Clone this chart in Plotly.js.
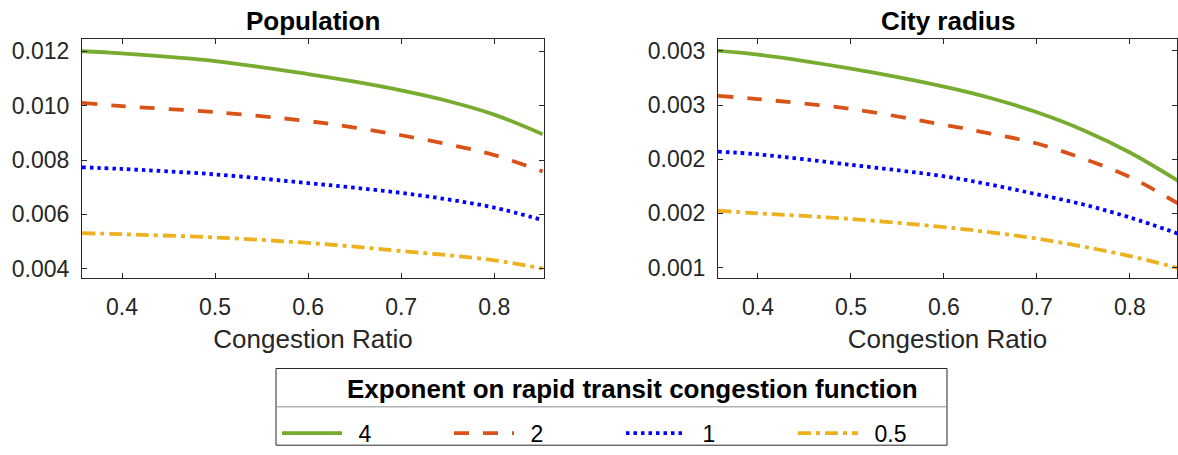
<!DOCTYPE html>
<html>
<head>
<meta charset="utf-8">
<script src="https://cdn.plot.ly/plotly-3.0.1.min.js"></script>
<style>
  html, body { margin: 0; padding: 0; background: #ffffff; }
  #chart { width: 1178px; height: 455px; }
</style>
</head>
<body>
<div id="chart"></div>
<script>
// ---- data ----
const congestionRatio = [0.357, 0.4, 0.5, 0.6, 0.65, 0.7, 0.75, 0.8, 0.852];

const popExp4   = [0.01200, 0.01192, 0.01164, 0.01116, 0.01088, 0.01056, 0.01017, 0.00967, 0.00895];
const popExp2   = [0.01010, 0.00998, 0.00976, 0.00943, 0.00919, 0.00891, 0.00858, 0.00818, 0.00758];
const popExp1   = [0.00773, 0.00767, 0.00747, 0.00715, 0.00698, 0.00679, 0.00655, 0.00625, 0.00579];
const popExp05  = [0.00531, 0.00527, 0.00515, 0.00495, 0.00481, 0.00465, 0.00450, 0.00431, 0.00401];

const radExp4   = [0.003000, 0.002966, 0.002836, 0.002670, 0.002565, 0.002433, 0.002268, 0.002062, 0.001800];
const radExp2   = [0.002585, 0.002555, 0.002464, 0.002318, 0.002237, 0.002145, 0.002005, 0.001835, 0.001590];
const radExp1   = [0.002070, 0.002045, 0.001948, 0.001842, 0.001765, 0.001676, 0.001582, 0.001462, 0.001312];
const radExp05  = [0.001524, 0.001500, 0.001448, 0.001373, 0.001325, 0.001267, 0.001192, 0.001106, 0.000994];

const seriesNames = ['4', '2', '1', '0.5'];
const popTickVals = [0.004, 0.006, 0.008, 0.010, 0.012];
const popTickText = ['0.004', '0.006', '0.008', '0.010', '0.012'];
const radTickVals = [0.001, 0.0015, 0.002, 0.0025, 0.003];
const radTickText = ['0.001', '0.002', '0.002', '0.003', '0.003'];
const xTickVals = [0.4, 0.5, 0.6, 0.7, 0.8];
const xTickText = ['0.4', '0.5', '0.6', '0.7', '0.8'];

const panelTitles = ['Population', 'City radius'];
const xAxisTitle = 'Congestion Ratio';
const legendTitle = 'Exponent on rapid transit congestion function';

// ---- styles ----
const colors = ['#77AC30', '#D95319', '#0000FF', '#EDB120'];
const dashes = ['solid', '15px,14px', '3.5px,4px', '13px,5px,4px,5px'];
const LW = 3.8;
const FONT = 'Liberation Sans, Arial, Helvetica, sans-serif';
const AX = '#262626';

// ---- geometry (pixels) ----
const W = 1178, H = 455;
const ML = 82, MR = 1, MT = 39, MB = 173;
const PW = W - ML - MR, PH = H - MT - MB;
const fx = px => (px - ML) / PW;
const fy = py => (H - MB - py) / PH;

const popData = [popExp4, popExp2, popExp1, popExp05];
const radData = [radExp4, radExp2, radExp1, radExp05];

const traces = [];
seriesNames.forEach((nm, i) => {
  traces.push({
    x: congestionRatio, y: popData[i], xaxis: 'x', yaxis: 'y',
    type: 'scatter', mode: 'lines', name: '\u2002' + nm, legendgroup: nm,
    line: { color: colors[i], width: LW, dash: dashes[i], shape: 'spline', smoothing: 1 },
    showlegend: true
  });
});
seriesNames.forEach((nm, i) => {
  traces.push({
    x: congestionRatio, y: radData[i], xaxis: 'x2', yaxis: 'y2',
    type: 'scatter', mode: 'lines', name: '\u2002' + nm, legendgroup: nm,
    line: { color: colors[i], width: LW, dash: dashes[i], shape: 'spline', smoothing: 1 },
    showlegend: false
  });
});

const axCommon = {
  showline: true, linecolor: AX, linewidth: 1, mirror: 'ticks',
  ticks: 'inside', ticklen: 5, tickwidth: 1, tickcolor: AX,
  showgrid: false, zeroline: false, automargin: false,
  tickfont: { family: FONT, size: 23, color: AX }
};

const layout = {
  width: W, height: H,
  margin: { l: ML, r: MR, t: MT, b: MB, pad: 0 },
  paper_bgcolor: '#ffffff', plot_bgcolor: '#ffffff',
  font: { family: FONT, color: AX },
  showlegend: true,
  xaxis: Object.assign({}, axCommon, {
    domain: [0, fx(544)], range: [0.357, 0.8535], anchor: 'y',
    tickvals: xTickVals, ticktext: xTickText, ticklabelstandoff: 8,
    title: { text: xAxisTitle, font: { family: FONT, size: 26, color: AX }, standoff: 11 }
  }),
  yaxis: Object.assign({}, axCommon, {
    domain: [0, 1], range: [0.00366, 0.01245], anchor: 'x',
    tickvals: popTickVals, ticktext: popTickText, ticklabelstandoff: 7
  }),
  xaxis2: Object.assign({}, axCommon, {
    domain: [fx(718), 1], range: [0.357, 0.8507], anchor: 'y2',
    tickvals: xTickVals, ticktext: xTickText, ticklabelstandoff: 8,
    title: { text: xAxisTitle, font: { family: FONT, size: 26, color: AX }, standoff: 11 }
  }),
  yaxis2: Object.assign({}, axCommon, {
    domain: [0, 1], range: [0.000903, 0.00311], anchor: 'x2',
    tickvals: radTickVals, ticktext: radTickText, ticklabelstandoff: 7
  }),
  annotations: [
    { text: '<b>' + panelTitles[0] + '</b>', xref: 'paper', yref: 'paper',
      x: fx(313), y: fy(21), xanchor: 'center', yanchor: 'middle', showarrow: false,
      font: { family: FONT, size: 26, color: '#000000' } },
    { text: '<b>' + panelTitles[1] + '</b>', xref: 'paper', yref: 'paper',
      x: fx(947.5), y: fy(21), xanchor: 'center', yanchor: 'middle', showarrow: false,
      font: { family: FONT, size: 26, color: '#000000' } },
    { text: '<b>' + legendTitle + '</b>', xref: 'paper', yref: 'paper',
      x: fx(632), y: fy(395), xanchor: 'center', yanchor: 'middle', showarrow: false,
      font: { family: FONT, size: 26, color: '#000000' } }
  ],
  legend: {
    orientation: 'h', xref: 'paper', yref: 'paper',
    x: fx(277), y: fy(418), xanchor: 'left', yanchor: 'top',
    bgcolor: 'rgba(0,0,0,0)', borderwidth: 0,
    itemwidth: 60, entrywidth: 97, entrywidthmode: 'pixels',
    font: { family: FONT, size: 23, color: '#000000' },
    itemclick: 'toggle'
  },
  shapes: [
    { type: 'rect', xref: 'paper', yref: 'paper',
      x0: fx(276), x1: fx(947), y0: fy(374), y1: fy(452),
      line: { color: AX, width: 1 }, fillcolor: 'rgba(0,0,0,0)' },
    { type: 'line', xref: 'paper', yref: 'paper',
      x0: fx(276), x1: fx(947), y0: fy(413), y1: fy(413),
      line: { color: '#8c8c8c', width: 1 } }
  ]
};

Plotly.newPlot('chart', traces, layout, { displayModeBar: false });
</script>
</body>
</html>
